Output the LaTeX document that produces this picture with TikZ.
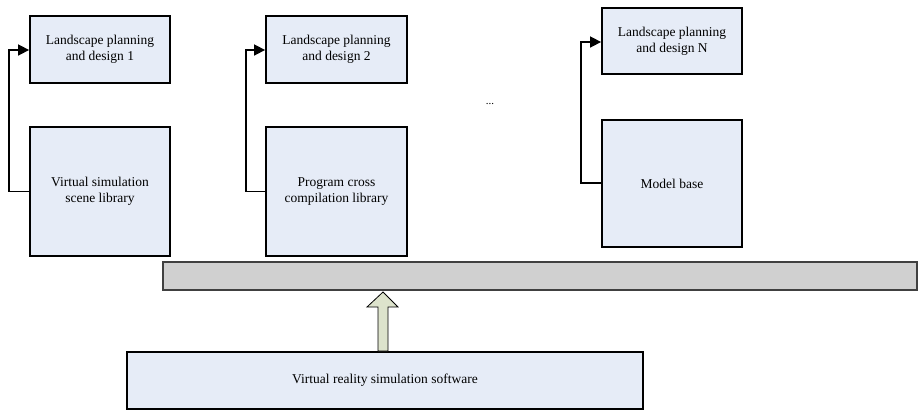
\documentclass[tikz,border=0pt]{standalone}
\usepackage{fontspec}
\setmainfont{Liberation Serif}
\usetikzlibrary{arrows.meta}
\definecolor{boxfill}{HTML}{E6ECF7}
\definecolor{barfill}{HTML}{D0D0D0}
\definecolor{arrfill}{HTML}{DDE3CC}
\begin{document}
\begin{tikzpicture}[x=1pt,y=-1pt,
  blk/.style={draw=black,line width=1.8pt,fill=boxfill,inner sep=0pt,
    font=\fontsize{13.5}{16}\selectfont,align=center},
  conn/.style={draw=black,line width=1.6pt,-{Triangle[length=11pt,width=11pt]}}]
\useasboundingbox (0,0) rectangle (919,410);
% top boxes
\node[blk,minimum width=140pt,minimum height=67pt] (t1) at (100,49.5) {Landscape planning\\and design 1};
\node[blk,minimum width=140pt,minimum height=129pt] (b1) at (100,191.5) {Virtual simulation\\scene library};
\node[blk,minimum width=141pt,minimum height=67pt] (t2) at (336.5,49.5) {Landscape planning\\and design 2};
\node[blk,minimum width=141pt,minimum height=129pt] (b2) at (336.5,191.5) {Program cross\\compilation library};
\node[blk,minimum width=140pt,minimum height=66pt] (tn) at (672,41) {Landscape planning\\and design N};
\node[blk,minimum width=140pt,minimum height=127pt] (bn) at (672,183.5) {Model base};
\node[font=\fontsize{11}{13}\selectfont] (dots) at (490,104) {...};
% bar
\node[draw=black!75,line width=1.3pt,fill=barfill,minimum width=754pt,minimum height=28pt,inner sep=0pt] (bar) at (540,276) {};
% bottom box
\node[blk,minimum width=516pt,minimum height=57pt] (sw) at (385,380.5) {Virtual reality simulation software};
% connectors
\coordinate (c1a) at (9,191.5); \coordinate (c1b) at (9,50);
\draw[conn] (b1.west) -- (c1a) -- (c1b) -- (t1.west |- c1b);
\coordinate (c2a) at (246,191.5); \coordinate (c2b) at (246,50);
\draw[conn] (b2.west) -- (c2a) -- (c2b) -- (t2.west |- c2b);
\coordinate (cna) at (581,183); \coordinate (cnb) at (581,42);
\draw[conn] (bn.west |- cna) -- (cna) -- (cnb) -- (tn.west |- cnb);
% block arrow
\coordinate (p1) at (378,351);
\coordinate (p2) at (378,307);
\coordinate (p3) at (367,307);
\coordinate (at) at (383,292);
\coordinate (p5) at (398,307);
\coordinate (p6) at (388,307);
\coordinate (p7) at (388,351);
\draw[black,line width=0.8pt,fill=arrfill] (p1) -- (p2) -- (p3) -- (at) -- (p5) -- (p6) -- (p7) -- cycle;
\end{tikzpicture}
\end{document}
